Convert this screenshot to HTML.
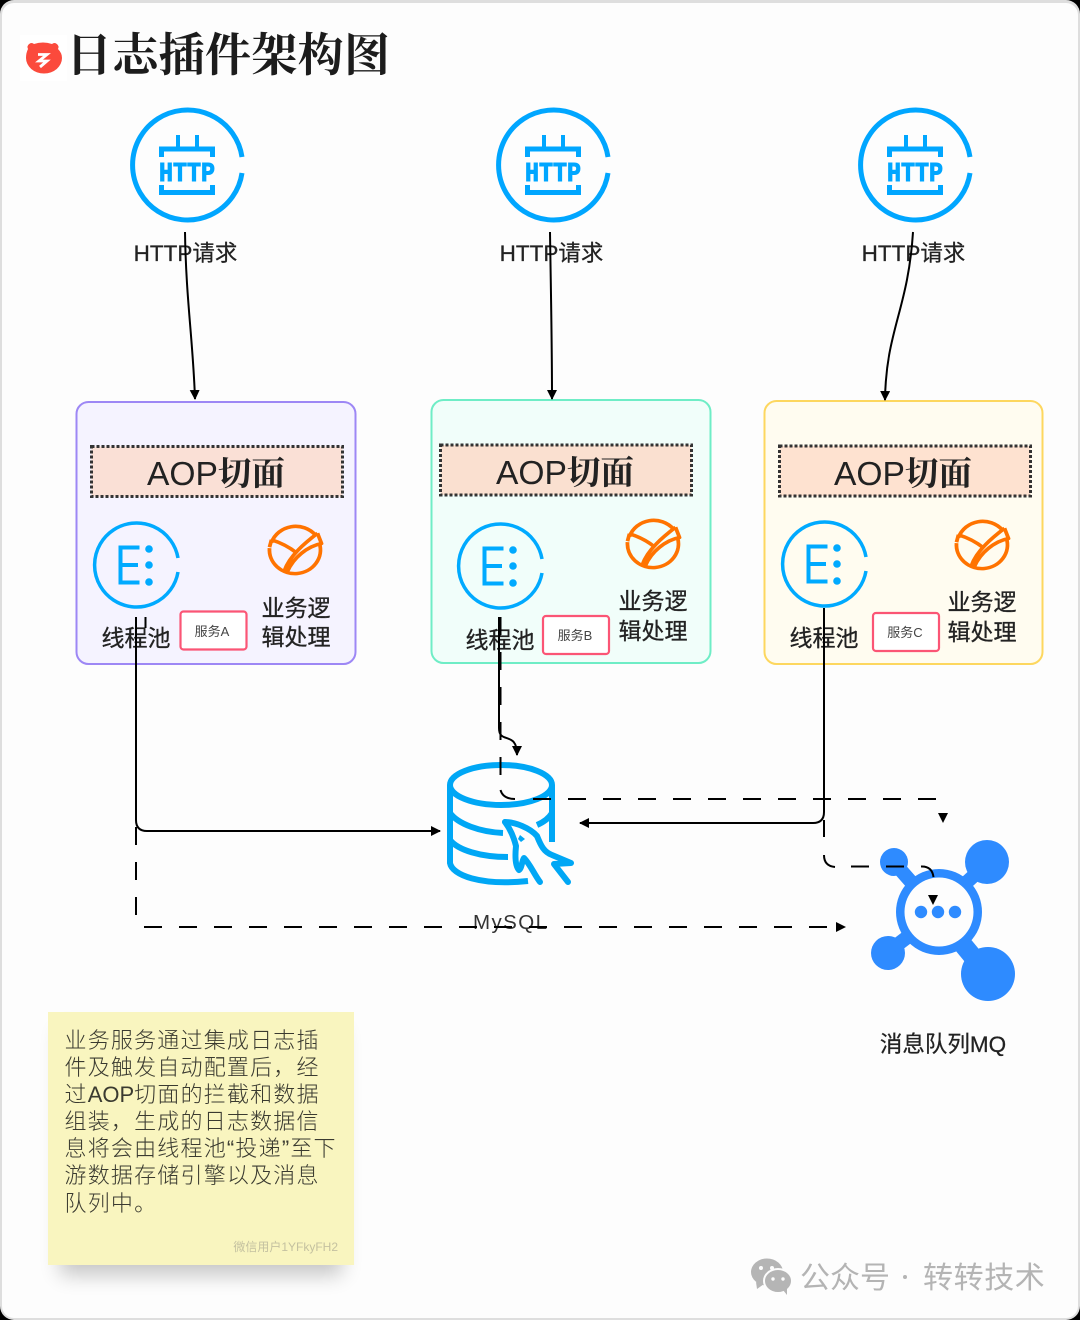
<!DOCTYPE html>
<html><head><meta charset="utf-8">
<style>
html,body{margin:0;padding:0;background:#000;width:1080px;height:1320px;overflow:hidden}
svg{display:block}
text{font-family:"Liberation Sans","Noto Sans CJK SC",sans-serif;fill:#222}
.lbl{font-size:22.500px;text-anchor:middle;stroke:#222;stroke-width:.25px}
.lb2{font-size:23px;text-anchor:middle;stroke:#222;stroke-width:.3px}
.aop{font-size:33.600px;text-anchor:middle;fill:#222}
.aop .cj{font-family:"Noto Serif CJK SC",serif;font-weight:700}
.svc{font-size:13px;text-anchor:middle;fill:#444}
.note{font-size:22px;letter-spacing:1.2px;fill:#3a3a30;font-weight:300}
.note .l{letter-spacing:0}
.c{fill:none;stroke:#000;stroke-width:2}
.d{fill:none;stroke:#000;stroke-width:2;stroke-dasharray:18 17}
.p{fill:none;stroke:#000;stroke-width:2}
</style></head>
<body>
<svg width="1080" height="1320" viewBox="0 0 1080 1320" xmlns="http://www.w3.org/2000/svg">
<defs>
<filter id="sh" x="-20%" y="-20%" width="140%" height="140%"><feGaussianBlur stdDeviation="10"/></filter>
<marker id="a" markerWidth="12" markerHeight="12" refX="9" refY="5" orient="auto" markerUnits="userSpaceOnUse"><path d="M0 0L10 5L0 10Z" fill="#000"/></marker>
<g id="http">
<path d="M55 -8A55 55 0 1 0 55 8" fill="none" stroke="#00a6ff" stroke-width="5"/>
<path d="M-11 -30h4v13h-4zM8 -30h4v13h-4z" fill="#00a6ff"/>
<path d="M-25.500 -8V-16H25.500V-8M-25.500 20V27.500H25.500V20" fill="none" stroke="#00a6ff" stroke-width="5"/>
<text x="0" y="16" text-anchor="middle" textLength="56" lengthAdjust="spacingAndGlyphs" style="font-family:'Liberation Mono',monospace;font-weight:700;font-size:27px;fill:#00a6ff;stroke:#00a6ff;stroke-width:1px">HTTP</text>
</g>
<g id="e">
<path d="M42 -7A42 42 0 1 0 42 7" fill="none" stroke="#00aaff" stroke-width="3.500"/>
<path d="M3.500 -17.500H-15.500V17.500H3.500M-15.500 0H2" fill="none" stroke="#00aaff" stroke-width="4"/>
<circle cx="13" cy="-16" r="3.800" fill="#00aaff"/><circle cx="13" cy="0" r="3.800" fill="#00aaff"/><circle cx="13" cy="17" r="3.800" fill="#00aaff"/>
</g>
<g id="veg" fill="none" stroke="#ff7300" stroke-width="3.800" stroke-linejoin="round" transform="scale(1,.93)">
<path d="M-24 -8A25.500 25.500 0 0 1 20 -16M24 -7A25.500 25.500 0 1 1 -26 -2"/>
<path d="M-24 -11L-26 -3M-24 -11C-15 -8 -6 -3 1 3"/>
<path d="M22 -18L26 -7C12 -4 -2 8 -8 23M22 -18C10 -8 -6 6 -11 22L-8 23"/>
</g>
</defs>
<rect x="0" y="0" width="1080" height="1320" rx="14" fill="#dedede"/>
<rect x="2" y="3" width="1076" height="1315" rx="12" fill="#fdfdfd"/>

<!-- title -->
<rect x="20" y="35" width="47" height="46" fill="#fff"/>
<path d="M28 49a4 4 0 0 1 6-5q9-3 18 0a4 4 0 0 1 6 5q4 4 4 9a18 15.500 0 0 1-36 0q0-5 2-9z" fill="#fb4a3c"/>
<path d="M38 54.500H47L39 61H47L40 67" fill="none" stroke="#fff" stroke-width="2.800"/>
<text x="66" y="71" textLength="324" style="font-family:'Noto Serif CJK SC',serif;font-weight:700;font-size:46px;fill:#1c1c1c">日志插件架构图</text>

<!-- http -->
<use href="#http" x="187" y="165"/><use href="#http" x="553" y="165"/><use href="#http" x="915" y="165"/>
<text class="lbl" x="185.500" y="261">HTTP请求</text>
<text class="lbl" x="551.500" y="261">HTTP请求</text>
<text class="lbl" x="913.500" y="261">HTTP请求</text>

<!-- boxes -->
<rect x="76.500" y="402" width="279" height="262" rx="12" fill="#f5f3ff" stroke="#9d87f5" stroke-width="2"/>
<rect x="431.500" y="400" width="279" height="263" rx="12" fill="#f1fefa" stroke="#6fedc6" stroke-width="2"/>
<rect x="764.500" y="401" width="278" height="263" rx="12" fill="#fffcf0" stroke="#fdd75f" stroke-width="2"/>

<g stroke="#333" stroke-width="3" stroke-dasharray="3 2">
<rect x="91.500" y="446.500" width="251" height="50" fill="#fae0d6"/>
<rect x="440.500" y="445" width="251" height="50" fill="#fae0d0"/>
<rect x="779.500" y="446" width="251" height="50" fill="#fee2d0"/>
</g>
<text class="aop" x="216" y="485">AOP<tspan class="cj">切面</tspan></text>
<text class="aop" x="565" y="484">AOP<tspan class="cj">切面</tspan></text>
<text class="aop" x="903" y="485">AOP<tspan class="cj">切面</tspan></text>

<use href="#e" x="136" y="565"/><use href="#e" x="500" y="566"/><use href="#e" x="824" y="564"/>
<use href="#veg" x="295.500" y="550"/><use href="#veg" x="653.500" y="544"/><use href="#veg" x="982.500" y="545"/>

<text class="lb2" x="136" y="646">线程池</text>
<text class="lb2" x="500" y="648">线程池</text>
<text class="lb2" x="824" y="646">线程池</text>

<text class="lb2" x="296" y="616">业务逻</text><text class="lb2" x="296" y="645">辑处理</text>
<text class="lb2" x="653" y="609">业务逻</text><text class="lb2" x="653" y="639">辑处理</text>
<text class="lb2" x="982" y="610">业务逻</text><text class="lb2" x="982" y="640">辑处理</text>

<g fill="#fff" stroke="#fb5575" stroke-width="2.200">
<rect x="180.500" y="611.500" width="66" height="38" rx="3"/>
<rect x="543" y="616" width="66" height="38" rx="3"/>
<rect x="873" y="613" width="66" height="38" rx="3"/>
</g>
<text class="svc" x="212" y="636">服务A</text>
<text class="svc" x="575" y="640">服务B</text>
<text class="svc" x="905" y="637">服务C</text>

<!-- mysql -->
<g fill="none" stroke="#00a7f5" stroke-width="6">
<ellipse cx="501" cy="785" rx="51" ry="20"/>
<path d="M450 785V863C452 875 480 886 528 881"/>
<path d="M552 785V842"/>
<path d="M450 813C458 824 480 832 503 833M450 840C458 850 480 857 508 857M537 825C544 822 549 818 552 813"/>
</g>
<path d="M505 822L520 825L535 833L543 850L557 857L572 863L553 863L568 883L540 883L523 858L517 867L513 840Z" fill="#fdfdfd"/>
<g fill="none" stroke="#00a7f5" stroke-width="6" stroke-linejoin="round" stroke-linecap="round">
<path d="M505 822C515 822 530 828 537 836C541 846 544 852 552 855L571 863L554 864L568 882"/>
<path d="M505 822C511 830 514 838 516 846C515 856 515 866 519 870C522 868 522 860 524 858C530 864 534 874 540 882"/>
</g>
<path d="M520 835l5 4-4 3-3-3z" fill="#00a7f5"/>
<text x="473" y="929" textLength="74" style="font-size:20.500px;fill:#333">MySQL</text>

<!-- mq -->
<g fill="#2e8bff">
<circle cx="894" cy="862" r="14"/><circle cx="987" cy="862" r="22"/><circle cx="888" cy="953" r="17"/><circle cx="988" cy="974" r="27"/>
<circle cx="939" cy="912" r="43"/>
</g>
<g stroke="#2e8bff" fill="none">
<path d="M898 867L926 899" stroke-width="14"/>
<path d="M980 870L955 893" stroke-width="14"/>
<path d="M893 948L922 926" stroke-width="14"/>
<path d="M983 969L955 935" stroke-width="19"/>
</g>
<circle cx="939" cy="912" r="34.500" fill="#fdfdfd"/>
<g fill="#2e8bff"><circle cx="921" cy="912" r="6.200"/><circle cx="938" cy="912" r="6.200"/><circle cx="955" cy="912" r="6.200"/></g>
<text class="lbl" x="943" y="1052" style="font-size:22.500px">消息队列MQ</text>

<!-- connectors -->
<path class="c" d="M185 232C186 300 193 340 195 399" marker-end="url(#a)"/>
<path class="c" d="M550 232C551 300 552 340 552 399" marker-end="url(#a)"/>
<path class="c" d="M913 232C908 310 886 330 885 400" marker-end="url(#a)"/>
<path class="c" d="M136 617V820Q136 831 147 831H440" marker-end="url(#a)"/>
<path class="d" d="M136 617V915"/>
<path class="p" d="M145.500 617V628"/>
<path class="d" d="M144 927H827"/>
<path d="M836 922L846 927L836 932Z"/>
<path class="c" d="M499 617V728C499 745 517 730 517 755" marker-end="url(#a)"/>
<path class="d" d="M500.500 617V775"/>
<path class="p" d="M500.500 790Q503 799 515 799"/>
<path class="d" d="M533 799H936"/>
<path d="M938 813H948L943 823Z"/>
<path class="c" d="M824 608V812Q824 823 813 823H580" marker-end="url(#a)"/>
<path class="p" d="M824 820V837M824 855Q824 866 835 867"/>
<path class="d" d="M851 866.500H905"/>
<path class="p" d="M921 866.500Q932 866 933.500 877"/>
<path d="M928 895H938L933 905Z"/>

<!-- note -->
<rect x="60" y="1030" width="282" height="245" fill="#000" opacity=".22" filter="url(#sh)"/>
<rect x="48" y="1012" width="306" height="253" fill="#f9f5bf"/>
<text class="note" x="64.500" y="1048">业务服务通过集成日志插</text>
<text class="note" x="64.500" y="1075">件及触发自动配置后，经</text>
<text class="note" x="64.500" y="1102">过<tspan class="l">AOP</tspan>切面的拦截和数据</text>
<text class="note" x="64.500" y="1129">组装，生成的日志数据信</text>
<text class="note" x="64.500" y="1156">息将会由线程池“投递”至下</text>
<text class="note" x="64.500" y="1183">游数据存储引擎以及消息</text>
<text class="note" x="64.500" y="1211">队列中。</text>
<text x="338" y="1251" text-anchor="end" style="font-size:12px;fill:#c4c1a0">微信用户1YFkyFH2</text>

<!-- watermark -->
<ellipse cx="767" cy="1272" rx="16" ry="13.500" fill="#b5b5b5"/>
<path d="M756 1282l1 7 7-5z" fill="#b5b5b5"/>
<ellipse cx="778" cy="1281" rx="14" ry="12" fill="#b5b5b5" stroke="#fdfdfd" stroke-width="2"/>
<path d="M783 1290l4 5 0-7z" fill="#b5b5b5"/>
<g fill="#fdfdfd"><circle cx="761" cy="1268" r="2"/><circle cx="772" cy="1268" r="2"/><circle cx="773" cy="1279" r="1.700"/><circle cx="783" cy="1279" r="1.700"/></g>
<text x="800" y="1288" style="font-size:30px;fill:#b4b4b4">公众号</text>
<circle cx="905" cy="1277" r="2" fill="#b4b4b4"/>
<text x="923" y="1288" style="font-size:30px;letter-spacing:.6px;fill:#b4b4b4">转转技术</text>
</svg>
</body></html>
